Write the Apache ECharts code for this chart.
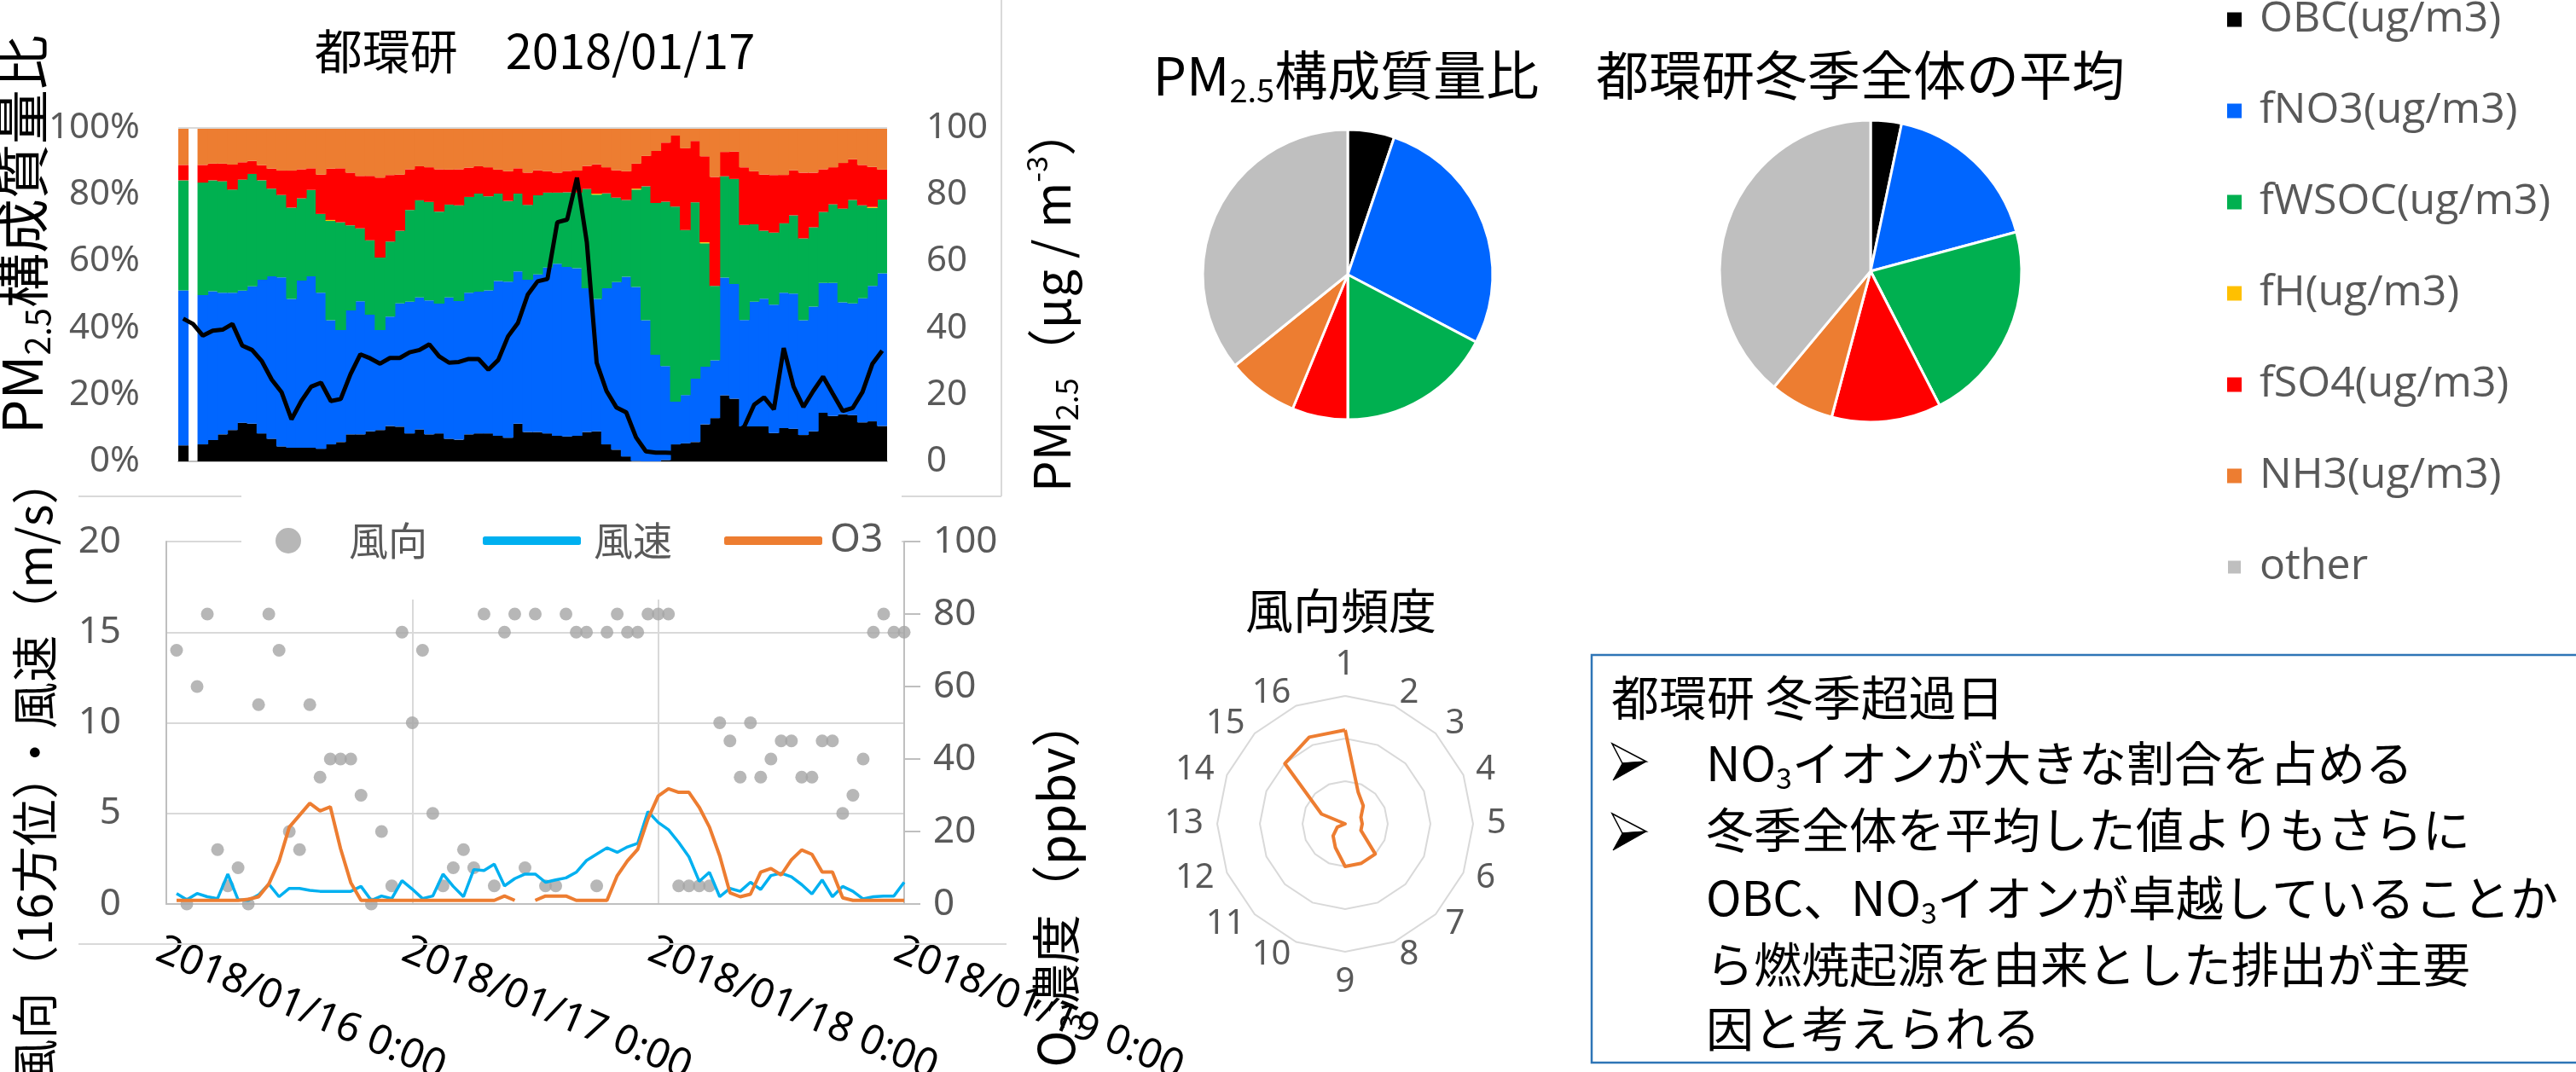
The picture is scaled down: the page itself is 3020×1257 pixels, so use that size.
<!DOCTYPE html>
<html>
<head>
<meta charset="utf-8">
<script src="https://cdn.jsdelivr.net/npm/echarts@6/dist/echarts.min.js"></script>
<style>
html, body { margin: 0; padding: 0; background: #ffffff; }
#main { width: 3020px; height: 1257px; }
</style>
</head>
<body>
<div id="main"></div>
<script>
// ---- Hourly PM2.5 composition (share of measured components, %) ----
// index 0 = 2018/01/16 1:00 ... index 71 = 2018/01/19 0:00 (index 1 missing)
const OBC = [4.8, null, 5.1, 6.4, 8.1, 9.4, 11.6, 11.3, 8.4, 6.8,
  4.5, 4.1, 4.1, 4.1, 3.8, 5.1, 5.8, 8.1, 8.1, 9.0,
  9.4, 10.6, 10.4, 8.4, 9.6, 8.1, 8.4, 6.8, 6.5, 8.1,
  8.4, 8.4, 7.7, 7.1, 11.3, 8.8, 8.8, 8.4, 7.7, 7.5,
  7.7, 8.8, 9.0, 5.1, 3.5, 1.5, 0.1, 0, 0, 0.4,
  5.1, 5.4, 5.8, 11.1, 13.0, 19.8, 18.8, 10.5, 10.5, 10.5,
  8.5, 10.0, 9.8, 7.9, 9.0, 14.6, 13.6, 14.1, 13.9, 11.7,
  12.0, 10.6];
const NO3 = [46.5, null, 44.8, 44.6, 42.5, 41.2, 39.6, 41.2, 46.1, 48.7,
  50.7, 44.6, 50.1, 51.4, 46.8, 37.2, 33.6, 37.2, 39.9, 35.0,
  30.0, 32.8, 37.0, 39.5, 39.6, 40.2, 38.9, 42.4, 41.6, 42.5,
  42.5, 42.9, 46.4, 46.8, 45.7, 45.7, 47.3, 49.7, 51.6, 50.8,
  50.2, 43.1, 39.7, 46.8, 50.3, 53.9, 52.2, 42.3, 32.0, 28.2,
  12.8, 14.5, 19.0, 17.3, 17.3, 35.3, 34.4, 31.9, 37.4, 38.3,
  38.5, 40.6, 40.5, 34.4, 37.4, 38.9, 39.9, 33.6, 33.5, 37.2,
  40.6, 45.8];
const WSOC = [33.0, null, 33.7, 33.3, 33.4, 30.9, 33.3, 33.7, 29.8, 26.3,
  24.7, 27.4, 24.7, 25.9, 23.6, 29.8, 32.3, 25.5, 21.9, 22.3,
  21.7, 22.5, 21.8, 27.5, 29.1, 29.5, 27.6, 27.8, 28.7, 28.7,
  29.4, 28.2, 26.2, 24.2, 23.3, 22.4, 23.7, 22.5, 21.3, 22.4,
  22.7, 29.8, 31.3, 28.5, 25.3, 23.0, 29.2, 40.2, 45.5, 49.3,
  58.5, 49.5, 52.9, 37.0, 22.3, 30.4, 31.5, 28.5, 23.2, 20.4,
  21.6, 20.8, 23.5, 24.6, 23.8, 21.3, 23.6, 28.1, 31.0, 27.9,
  23.4, 22.1];
const FH = [0, null, 0, 0, 0, 0, 0, 0, 0, 0,
  0, 0, 0, 0, 0, 0.3, 0, 0, 0, 0,
  0, 0, 0, 0, 0, 0, 0, 0, 0, 0,
  0, 0, 0, 0, 0, 0, 0, 0, 0, 0,
  0, 0, 0.3, 0, 0, 0, 0.3, 0, 0, 0,
  0, 0, 0, 0.3, 0, 0, 0, 0, 0, 0,
  0, 0, 0, 0, 0, 0, 0, 0, 0, 0,
  0.3, 0];
const SO4 = [4.6, null, 5.3, 5.0, 5.3, 7.5, 5.2, 3.9, 4.5, 6.0,
  7.3, 11.1, 8.7, 6.5, 11.8, 15.4, 16.2, 15.8, 15.7, 19.3,
  24.0, 20.0, 16.8, 12.2, 10.2, 10.4, 12.7, 10.5, 10.8, 8.8,
  8.2, 8.7, 7.2, 8.9, 7.6, 9.7, 7.5, 6.4, 6.0, 6.4,
  6.6, 6.9, 8.8, 7.8, 8.2, 8.6, 7.5, 9.1, 15.6, 17.7,
  21.3, 24.5, 18.4, 25.8, 32.7, 7.3, 8.2, 17.3, 15.9, 16.8,
  17.3, 14.5, 13.5, 19.7, 16.4, 12.8, 11.1, 13.7, 12.2, 12.1,
  12.0, 9.0];
const NH3 = [11.1, null, 11.1, 10.7, 10.7, 11.1, 10.2, 9.9, 11.1, 12.2,
  12.8, 12.8, 12.4, 12.2, 14.0, 12.1, 12.2, 13.4, 14.4, 14.4,
  15.0, 14.0, 14.0, 12.4, 11.5, 11.8, 12.4, 12.4, 12.4, 11.8,
  11.5, 11.8, 12.4, 13.0, 12.1, 13.4, 12.8, 13.0, 13.4, 13.0,
  12.8, 11.5, 10.8, 11.8, 12.8, 13.0, 10.8, 8.3, 6.9, 4.3,
  2.4, 6.2, 3.9, 8.6, 14.7, 7.2, 7.2, 11.8, 13.0, 14.0,
  14.0, 14.0, 12.8, 13.4, 13.4, 12.4, 11.8, 10.5, 9.5, 11.1,
  11.8, 12.4];
// PM2.5 mass concentration (µg/m3)
const PM25 = [42.8, 41.2, 37.7, 39.2, 39.5, 41.2, 34.7, 33.4, 30.0, 24.5,
  20.7, 12.6, 18.1, 22.4, 23.6, 18.1, 18.7, 26.2, 32.1, 30.9,
  29.3, 31.0, 31.0, 32.7, 33.4, 35.1, 31.5, 29.6, 29.8, 30.7,
  30.7, 27.5, 30.4, 37.5, 41.5, 50.0, 54.0, 54.7, 71.7, 72.5,
  85.1, 65.7, 29.6, 21.1, 16.2, 14.7, 7.2, 3.0, 2.6, 2.6,
  2.5, 3.0, 4.0, 5.0, 6.0, 7.0, 8.0, 10.5, 17.0, 19.2,
  15.6, 34.0, 22.4, 16.3, 21.1, 25.4, 20.2, 15.1, 16.0, 20.8,
  29.2, 33.2];

// ---- Hourly meteorology (2018/01/16 1:00 - 2018/01/19 0:00) ----
// wind direction in 16 sectors (0 = calm)
const windDir = [14, 0, 12, 16, 3, 1, 2, 0, 11, 16,
  14, 4, 3, 11, 7, 8, 8, 8, 6, 0,
  4, 1, 15, 10, 14, 5, 1, 2, 3, 2,
  16, 1, 15, 16, 2, 16, 1, 1, 16, 15,
  15, 1, 15, 16, 15, 15, 16, 16, 16, 1,
  1, 1, 1, 10, 9, 7, 10, 7, 8, 9,
  9, 7, 7, 9, 9, 5, 6, 8, 15, 16,
  15, 15];
// wind speed (m/s)
const windSpeed = [0.58, 0.24, 0.58, 0.4, 0.3, 1.65, 0.24, 0.2, 0.5, 1.1,
  0.4, 0.86, 0.86, 0.75, 0.7, 0.7, 0.7, 0.7, 0.97, 0.2,
  0.44, 0.3, 1.29, 0.82, 0.3, 0.44, 1.65, 0.97, 0.4, 1.9,
  1.85, 2.2, 1.0, 1.4, 1.65, 1.65, 1.2, 1.33, 1.44, 1.75,
  2.4, 2.75, 3.1, 2.85, 3.15, 3.35, 5.1, 4.5, 4.1, 3.4,
  2.6, 1.25, 1.75, 0.4, 0.86, 0.7, 1.2, 0.8, 1.57, 1.7,
  1.5, 1.07, 0.55, 1.33, 0.4, 0.97, 0.7, 0.28, 0.4, 0.44,
  0.44, 1.2];
// ozone (ppbv)
const ozone = [1, 1, 1, 1, 1, 1, 1, 1.3, 2, 5.5,
  11.8, 21.2, 24.5, 27.8, 25.7, 26.8, 15.3, 5.9, 1, 1,
  1, 1, 1, 1, 1, 1, 1, 1, 1, 1,
  1, 1, 2.2, 1, null, 1, 2.2, 2.2, 2.2, 1,
  1, 1, 1, 7.8, 11.9, 15.1, 23.5, 29.8, 31.8, 30.8,
  30.8, 26.7, 21.2, 13.3, 3.1, 2.0, 2.7, 8.8, 9.8, 8.0,
  12.2, 14.9, 13.7, 8.8, 8.8, 1.7, 1, 1, 1, 1,
  1, 1];
const dateTicks = ['2018/01/16 0:00', '2018/01/17 0:00', '2018/01/18 0:00', '2018/01/19 0:00'];

// wind direction frequency, sectors 1..16
const dirFreq = [11, 4, 3, 2, 2, 2, 5, 5, 5, 3, 2, 1, 0, 3, 10, 11];

// ---- Pie shares (%) ----
const compNames = ['OBC(ug/m3)', 'fNO3(ug/m3)', 'fWSOC(ug/m3)', 'fH(ug/m3)', 'fSO4(ug/m3)', 'NH3(ug/m3)', 'other'];
const pieEvent = [5.2, 27.5, 17.3, 0, 6.2, 8.0, 35.8];
const pieWinter = [3.3, 17.5, 21.6, 0, 11.7, 6.9, 38.9];

// ---- styling ----
const compColors = ['#000000', '#0066FF', '#00B050', '#FFC000', '#FF0000', '#ED7D31', '#BFBFBF'];
const CJK = '"Noto Sans CJK JP", "Noto Sans", sans-serif';
const LAT = '"Noto Sans", "Open Sans", sans-serif';
const TXT = '#595959';
const AX = '#BFBFBF';
const GRIDC = '#D9D9D9';

const chart = echarts.init(document.getElementById('main'));

const hourCats = OBC.map((_, i) => String(i));
const shares = [OBC, NO3, WSOC, FH, SO4, NH3];
const hourOf = i => i + 1;

// radar runs clockwise: 1 at top, then 2, 3 ... on the right
const radarOrder = [1].concat(Array.from({ length: 15 }, (_, k) => 16 - k));

// bars are a touch wider than their slot so neighbouring columns meet without seams
const barSeries = shares.map((arr, k) => ({
  type: 'bar', name: compNames[k], xAxisIndex: 0, yAxisIndex: 0, stack: 'pm',
  data: arr, barWidth: 12.6, barGap: '0%',
  itemStyle: { color: compColors[k] },
  emphasis: { disabled: true }, silent: true,
  markLine: k === 0 ? {
    silent: true, symbol: ['none', 'none'], label: { show: false },
    lineStyle: { color: GRIDC, width: 2, type: 'solid' }, data: [{ yAxis: 100 }]
  } : undefined
}));

function vText(x, y, text, rich) {
  return {
    type: 'text', x: x, y: y, rotation: Math.PI / 2, silent: true,
    style: { text: text, align: 'center', verticalAlign: 'middle', textAlign: 'center', textVerticalAlign: 'middle', rich: rich }
  };
}
function hText(x, y, text, rich, align) {
  return {
    type: 'text', x: x, y: y, silent: true,
    style: { text: text, align: align || 'center', verticalAlign: 'middle', textAlign: align || 'center', textVerticalAlign: 'middle', rich: rich }
  };
}
function tok(size, color, va, lh, fam) {
  return { fontSize: size, fontFamily: fam || CJK, fill: color, color: color, verticalAlign: va || 'middle', lineHeight: lh || Math.round(size * 1.2) };
}
// arrowhead bullet: outlined upper half, solid lower half
function bullet(x, y) {
  return [
    { type: 'polygon', z: 2, silent: true, shape: { points: [[x, y - 21], [x + 40, y], [x + 12, y + 2]] }, style: { fill: '#ffffff', stroke: '#000000', lineWidth: 1.5 } },
    { type: 'polygon', z: 2, silent: true, shape: { points: [[x + 12, y + 2], [x + 40, y], [x + 1, y + 22]] }, style: { fill: '#000000', stroke: '#000000', lineWidth: 1 } }
  ];
}

const option = {
  animation: false,
  textStyle: { fontFamily: LAT },
  grid: [
    { left: 209, right: 3020 - 1040, top: 150, bottom: 1257 - 541, outerBoundsMode: 'none' },
    { left: 195, right: 3020 - 1060, top: 635, bottom: 1257 - 1060, outerBoundsMode: 'none' }
  ],
  xAxis: [
    {
      type: 'category', gridIndex: 0, data: hourCats, boundaryGap: true,
      axisLine: { lineStyle: { color: AX, width: 2 } }, axisTick: { show: false }, axisLabel: { show: false },
      splitLine: { show: false }
    },
    {
      type: 'value', gridIndex: 1, min: 0, max: 72, interval: 24,
      axisLine: { show: true, lineStyle: { color: AX, width: 2 } }, axisTick: { show: false },
      splitLine: { show: true, lineStyle: { color: GRIDC, width: 2 } },
      axisLabel: {
        formatter: v => dateTicks[Math.round(v / 24)], rotate: -23, margin: 30,
        color: '#000000', fontSize: 48, fontFamily: LAT, align: 'left', verticalAlign: 'top'
      }
    }
  ],
  yAxis: [
    {
      type: 'value', gridIndex: 0, min: 0, max: 100, interval: 20, position: 'left',
      axisLine: { show: false }, axisTick: { show: false }, splitLine: { show: false },
      axisLabel: { formatter: '{value}%', color: TXT, fontSize: 42, margin: 45, fontFamily: LAT }
    },
    {
      type: 'value', gridIndex: 0, min: 0, max: 100, interval: 20, position: 'right',
      axisLine: { show: false }, axisTick: { show: false }, splitLine: { show: false },
      axisLabel: { color: TXT, fontSize: 42, margin: 46, fontFamily: LAT }
    },
    {
      type: 'value', gridIndex: 1, min: 0, max: 20, interval: 5, position: 'left',
      axisLine: { show: true, lineStyle: { color: AX, width: 2 } }, axisTick: { show: false },
      splitLine: { show: true, lineStyle: { color: GRIDC, width: 2 } },
      axisLabel: { color: TXT, fontSize: 44, margin: 53, fontFamily: LAT }
    },
    {
      type: 'value', gridIndex: 1, min: 0, max: 100, interval: 20, position: 'right',
      axisLine: { show: true, lineStyle: { color: AX, width: 2 } },
      axisTick: { show: true, inside: false, length: 19, lineStyle: { color: AX, width: 2 } },
      splitLine: { show: false },
      axisLabel: { color: TXT, fontSize: 44, margin: 34, fontFamily: LAT }
    }
  ],
  radar: {
    center: [1577, 966], radius: 150, startAngle: 90, splitNumber: 3, shape: 'polygon',
    indicator: radarOrder.map(d => ({ name: String(d), max: 15 })),
    axisName: { color: TXT, fontSize: 40, fontFamily: LAT },
    nameGap: 16,
    splitLine: { lineStyle: { color: GRIDC, width: 2 } },
    splitArea: { show: false },
    axisLine: { show: false }, axisTick: { show: false }, axisLabel: { show: false }
  },
  legend: [
    {
      orient: 'vertical', left: 2610, top: -2, padding: 0, itemGap: 57,
      itemWidth: 17, itemHeight: 17, icon: 'rect', selectedMode: false,
      data: compNames,
      textStyle: { fontSize: 50, color: TXT, fontFamily: '"Open Sans", "Noto Sans", sans-serif', lineHeight: 50, padding: [0, 0, 0, 16] }
    },
    {
      left: 323, top: 611, padding: 0, itemWidth: 30, itemHeight: 30, selectedMode: false,
      data: [{ name: '風向', icon: 'circle' }],
      textStyle: { fontSize: 46, color: TXT, fontFamily: CJK, lineHeight: 46, padding: [0, 0, 0, 51] }
    },
    {
      left: 566, top: 611, padding: 0, itemWidth: 115, itemHeight: 10, selectedMode: false,
      data: [{ name: '風速', icon: 'roundRect' }],
      textStyle: { fontSize: 46, color: TXT, fontFamily: CJK, lineHeight: 46, padding: [0, 0, 0, 10] }
    },
    {
      left: 849, top: 611, padding: 0, itemWidth: 115, itemHeight: 10, selectedMode: false,
      data: [{ name: 'O3', icon: 'roundRect' }],
      textStyle: { fontSize: 46, color: TXT, fontFamily: LAT, lineHeight: 46, padding: [0, 0, 0, 4] }
    }
  ],
  series: barSeries.concat([
    {
      type: 'line', name: 'PM2.5', xAxisIndex: 0, yAxisIndex: 1, data: PM25,
      symbol: 'none', itemStyle: { color: '#000000' }, lineStyle: { color: '#000000', width: 5 }, z: 5, silent: true
    },
    {
      type: 'scatter', name: '風向', xAxisIndex: 1, yAxisIndex: 2,
      data: windDir.map((v, i) => [hourOf(i), v]),
      symbol: 'circle', symbolSize: 15, itemStyle: { color: '#A5A5A5' }, silent: true
    },
    {
      type: 'line', name: '風速', xAxisIndex: 1, yAxisIndex: 2,
      data: windSpeed.map((v, i) => [hourOf(i), v]),
      symbol: 'none', itemStyle: { color: '#00B0F0' }, lineStyle: { color: '#00B0F0', width: 3.5 }, silent: true
    },
    {
      type: 'line', name: 'O3', xAxisIndex: 1, yAxisIndex: 3,
      data: ozone.map((v, i) => [hourOf(i), v]), connectNulls: false,
      symbol: 'none', itemStyle: { color: '#ED7D31' }, lineStyle: { color: '#ED7D31', width: 4 }, silent: true
    },
    {
      type: 'pie', name: 'event', center: [1580, 322], radius: 170, startAngle: 90, clockwise: true,
      label: { show: false }, labelLine: { show: false }, silent: true,
      itemStyle: { borderColor: '#ffffff', borderWidth: 3 },
      data: compNames.map((n, i) => ({ name: n, value: pieEvent[i], itemStyle: { color: compColors[i] } }))
    },
    {
      type: 'pie', name: 'winter', center: [2193, 318], radius: 177, startAngle: 90, clockwise: true,
      label: { show: false }, labelLine: { show: false }, silent: true,
      itemStyle: { borderColor: '#ffffff', borderWidth: 3 },
      data: compNames.map((n, i) => ({ name: n, value: pieWinter[i], itemStyle: { color: compColors[i] } }))
    },
    {
      type: 'radar', name: '風向頻度', silent: true, symbol: 'none',
      lineStyle: { color: '#ED7D31', width: 4 }, itemStyle: { color: '#ED7D31' },
      data: [{ value: radarOrder.map(d => dirFreq[d - 1]) }]
    }
  ]),
  graphic: [
    // chart-area frame lines
    { type: 'line', z: 1, silent: true, shape: { x1: 1174, y1: 0, x2: 1174, y2: 582 }, style: { stroke: GRIDC, lineWidth: 2 } },
    { type: 'line', z: 1, silent: true, shape: { x1: 92, y1: 582, x2: 1174, y2: 582 }, style: { stroke: GRIDC, lineWidth: 2 } },
    { type: 'line', z: 1, silent: true, shape: { x1: 92, y1: 1107, x2: 1180, y2: 1107 }, style: { stroke: GRIDC, lineWidth: 2 } },
    // white panel behind the lower legend
    { type: 'rect', z: 3, silent: true, shape: { x: 283, y: 575, width: 774, height: 128 }, style: { fill: '#ffffff' } },
    // note box
    { type: 'rect', z: 1, silent: true, shape: { x: 1866, y: 768, width: 1200, height: 478 }, style: { fill: 'none', stroke: '#2E75B6', lineWidth: 2.5 } },

    // titles
    hText(627, 60, '{a|都環研　2018/01/17}', { a: tok(56, '#000') }),
    hText(1578, 88, '{a|PM}{b|2.5}{a|構成質量比}', { a: tok(62, '#000', 'middle', 74), b: tok(38, '#000', 'bottom', 44) }),
    hText(2181, 88, '{a|都環研冬季全体の平均}', { a: tok(62, '#000') }),
    hText(1572, 716, '{a|風向頻度}', { a: tok(56, '#000') }),

    // axis names
    vText(26, 275, '{a|PM}{b|2.5}{a|構成質量比}', { a: tok(64, '#000', 'middle', 76), b: tok(40, '#000', 'bottom', 46) }),
    vText(1233, 351, '{a|PM}{b|2.5}{a|（μg / m}{c|-3}{a|）}', { a: tok(58, '#000', 'middle', 70), b: tok(36, '#000', 'bottom', 42), c: tok(34, '#000', 'top', 40) }),
    vText(40, 905, '{a|風向（16方位）・風速（m/s）}', { a: tok(55, '#000') }),
    vText(1238, 1035, '{a|O}{b|3}{a|濃度（ppbv）}', { a: tok(58, '#000', 'middle', 70), b: tok(36, '#000', 'bottom', 42) }),

    // note text
    hText(1889, 818, '{a|都環研 冬季超過日}', { a: tok(56, '#000') }, 'left'),
    hText(2000, 895, '{a|NO}{b|3}{a|イオンが大きな割合を占める}', { a: tok(56, '#000', 'middle', 68), b: tok(34, '#000', 'bottom', 40) }, 'left'),
    hText(2000, 973, '{a|冬季全体を平均した値よりもさらに}', { a: tok(56, '#000') }, 'left'),
    hText(2000, 1053, '{a|OBC、NO}{b|3}{a|イオンが卓越していることか}', { a: tok(56, '#000', 'middle', 68), b: tok(34, '#000', 'bottom', 40) }, 'left')
  ].concat(bullet(1890, 893), bullet(1890, 975), [
    hText(2000, 1131, '{a|ら燃焼起源を由来とした排出が主要}', { a: tok(56, '#000') }, 'left'),
    hText(2000, 1206, '{a|因と考えられる}', { a: tok(56, '#000') }, 'left')
  ])
};

chart.setOption(option);
</script>
</body>
</html>
